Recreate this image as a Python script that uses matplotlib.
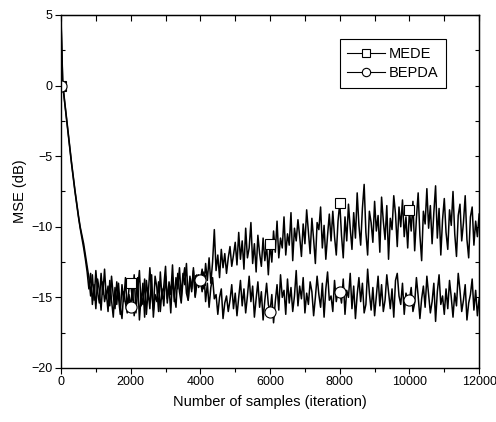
import numpy as np
import matplotlib
matplotlib.use("Agg")
import matplotlib.pyplot as plt
from matplotlib.ticker import MultipleLocator

plt.rcParams['font.family'] = ['Liberation Sans', 'DejaVu Sans']

# samples are read every 50 iterations from the picture
step = 50

mede = [
    4.8, 0.2, -1.0, -2.1, -3.2, -4.3, -5.4, -6.4, -7.4, -8.3, -9.2, -10.0, -10.6, -11.2, -12.0, -12.8,
    -13.6, -14.9, -13.4, -15.2, -13.1, -14.6, -15.4, -13.3, -14.8, -13.0, -15.1, -14.2, -15.6, -13.5, -14.9, -15.8,
    -13.9, -15.0, -16.2, -14.1, -15.3, -13.6, -15.9, -14.4,
    -14.0,
    -15.2, -13.4, -16.1, -14.5, -13.1, -15.6, -14.0, -16.4, -13.8, -15.0, -12.9, -14.7, -15.9, -13.5, -14.3, -16.0,
    -13.2, -15.1, -14.2, -12.8, -15.4, -13.9, -14.8, -12.7, -15.3, -13.6, -14.4, -12.9, -15.0, -13.3, -14.1, -12.6,
    -15.2, -13.7, -14.6, -12.9, -14.9, -13.4, -14.3,
    -13.8,
    -13.0, -14.4, -12.6, -13.8, -12.2, -14.0, -12.5, -10.2, -13.1, -12.0, -13.6, -11.6, -12.9, -11.9, -13.3, -12.2,
    -11.4, -12.8, -12.0,
    -11.1, -12.7, -10.4, -12.3, -11.0, -13.0, -10.1, -12.2, -11.5, -9.7, -12.6, -11.2, -13.2, -10.6, -11.9, -12.8,
    -10.8, -12.4, -11.3, -13.4,
    -11.2,
    -12.5, -10.3, -11.8, -9.6, -12.2, -10.8, -11.5, -9.3, -12.0, -10.5, -11.3, -9.0, -12.4, -10.1, -11.0, -9.5,
    -10.7, -12.1, -9.8, -11.2, -8.8, -10.4, -11.9, -9.4, -10.9, -12.6, -9.7, -10.2, -8.6, -11.5, -9.9, -12.3,
    -10.6, -9.1, -11.0, -8.9, -10.7, -12.0, -9.6,
    -8.3,
    -10.6, -12.2, -9.3, -11.0, -8.4, -10.1, -11.6, -9.0, -10.8, -7.6, -9.9, -11.3, -8.7, -7.0, -10.4, -12.0,
    -8.9, -9.7, -11.1, -8.2, -10.3, -9.2, -11.8, -7.9, -9.6, -10.9, -8.5, -12.3, -9.4, -10.2, -7.8, -9.1,
    -11.4, -8.6, -10.0, -8.1, -10.7, -9.3, -11.5,
    -8.8,
    -10.3, -8.2, -11.7, -9.4, -7.6, -10.6, -12.4, -8.9, -9.8, -7.3, -10.1, -8.5, -11.2, -9.0, -7.1, -10.8,
    -8.7, -12.0, -9.5, -8.0, -10.4, -11.6, -8.8, -9.9, -7.5, -10.5, -12.1, -9.2, -8.4, -11.0, -9.7, -7.8,
    -10.9, -12.2, -9.3, -8.6, -11.3, -9.6, -10.7, -9.1,
]

bepda = [
    4.6, 0.0, -1.1, -2.2, -3.3, -4.4, -5.5, -6.5, -7.5, -8.4, -9.3, -10.1, -10.8, -11.5, -12.3, -13.2,
    -14.4, -13.3, -15.5, -14.1, -15.8, -13.7, -14.5, -15.9, -13.9, -15.3, -14.6, -16.0, -13.8, -15.2, -16.4, -14.3,
    -15.5, -14.0, -15.7, -16.5, -14.6, -15.4, -16.1, -14.8,
    -15.7,
    -14.2, -16.3, -15.0, -13.6, -16.6, -14.9, -15.5, -13.7, -16.2, -14.5, -15.8, -13.4, -16.4, -14.8, -15.3, -13.9,
    -16.0, -14.4, -15.6, -13.5, -15.1, -14.2, -16.1, -13.6, -14.9, -15.7, -13.3, -14.6, -15.4, -13.8, -12.9, -14.7,
    -15.2, -13.5, -14.4, -13.1, -15.0, -14.0, -13.4,
    -13.8,
    -14.6, -13.2, -15.3, -14.0, -15.7, -14.3, -13.6, -15.1, -14.8, -16.2, -15.0, -14.4, -16.5, -15.4, -14.9, -16.0,
    -15.2, -14.1, -15.8,
    -14.7, -16.3, -15.0, -13.8, -15.6, -14.4, -16.1, -14.9, -13.5, -15.3, -14.2, -16.4, -15.1, -13.9, -15.7, -14.6,
    -16.6, -15.2, -14.0, -15.5,
    -16.0,
    -14.8, -16.8, -15.3, -14.1, -15.9, -13.4, -15.0, -14.5, -16.2, -13.7, -15.4, -14.3, -16.0, -14.9, -13.1, -15.6,
    -14.2, -15.1, -13.6, -16.1, -14.7, -15.5, -13.9, -14.6, -16.3, -15.0, -13.5, -14.8, -15.7, -14.0, -16.4, -14.4,
    -13.2, -15.2, -14.9, -16.0, -13.8, -15.3, -14.5,
    -14.6,
    -15.4, -13.7, -16.2, -14.5, -15.0, -13.3, -15.8, -14.2, -16.5, -14.8, -13.6, -15.3, -14.0, -16.1, -15.5, -13.0,
    -14.7, -15.9, -14.3, -16.3, -14.9, -13.5, -15.6, -14.1, -16.0, -15.2, -13.4, -14.6, -15.8, -14.4, -16.4, -13.8,
    -13.3, -14.9, -15.5, -14.0, -16.2, -14.7, -15.1,
    -15.2,
    -14.3, -16.0, -15.4, -13.6, -14.9, -16.5, -15.1, -14.2, -15.7, -13.5, -14.8, -16.1, -15.3, -14.0, -16.7, -14.6,
    -13.4, -15.5, -14.9, -16.2, -14.4, -15.8, -13.8, -15.0, -16.4, -14.7, -15.6, -13.3, -14.5, -16.0, -15.2, -14.1,
    -16.6, -15.4, -14.8, -13.7, -15.9, -14.5, -16.3, -15.1,
]

# symbol positions (every 2000 iterations)
mark_x = [0, 2000, 4000, 6000, 8000, 10000]
mede_marks = [0.0, -14.0, -13.8, -11.2, -8.3, -8.8]
bepda_marks = [0.0, -15.7, -13.8, -16.0, -14.6, -15.2]

x_m = np.arange(len(mede)) * step
x_b = np.arange(len(bepda)) * step

fig = plt.figure(figsize=(4.96, 4.22), dpi=100)
ax = fig.add_axes([0.123, 0.128, 0.843, 0.8365])

ax.plot(x_m, mede, color='k', lw=1.1)
ax.plot(x_b, bepda, color='k', lw=1.1)
ax.plot(mark_x, mede_marks, ls='none', marker='s', ms=7, mfc='white', mec='k', mew=0.8)
ax.plot(mark_x, bepda_marks, ls='none', marker='o', ms=8, mfc='white', mec='k', mew=0.8)

# legend handles
ax.plot([], [], color='k', lw=0.8, marker='s', ms=5.5, mfc='white', mec='k', mew=0.8, label='MEDE')
ax.plot([], [], color='k', lw=0.8, marker='o', ms=6, mfc='white', mec='k', mew=0.8, label='BEPDA')
leg = ax.legend(loc='upper right', bbox_to_anchor=(0.92, 0.931), fontsize=10.5, fancybox=False,
                framealpha=1, edgecolor='k', handlelength=2.6, handletextpad=0.25,
                borderpad=0.5, labelspacing=0.4, borderaxespad=0)
leg.get_frame().set_linewidth(0.8)

ax.set_xlim(0, 12000)
ax.set_ylim(-20, 5)
ax.xaxis.set_major_locator(MultipleLocator(2000))
ax.xaxis.set_minor_locator(MultipleLocator(1000))
ax.yaxis.set_major_locator(MultipleLocator(5))
ax.yaxis.set_minor_locator(MultipleLocator(2.5))
ax.tick_params(which='major', direction='out', length=4, width=0.8, labelsize=9, pad=2)
ax.tick_params(axis='y', which='minor', direction='in', length=3, width=0.8)
ax.tick_params(axis='x', which='minor', direction='out', length=3, width=0.8)

top = ax.secondary_xaxis('top')
top.xaxis.set_major_locator(MultipleLocator(1000))
top.tick_params(direction='in', length=4, width=0.8, labeltop=False)
right = ax.secondary_yaxis('right')
right.yaxis.set_major_locator(MultipleLocator(2.5))
right.tick_params(direction='in', length=3, width=0.8, labelright=False)

for s in ax.spines.values():
    s.set_linewidth(1.0)

ax.set_xlabel('Number of samples (iteration)', fontsize=10.5, labelpad=5)
ax.set_ylabel('MSE (dB)', fontsize=10.5, labelpad=3)

fig.savefig('out.png', dpi=100)
